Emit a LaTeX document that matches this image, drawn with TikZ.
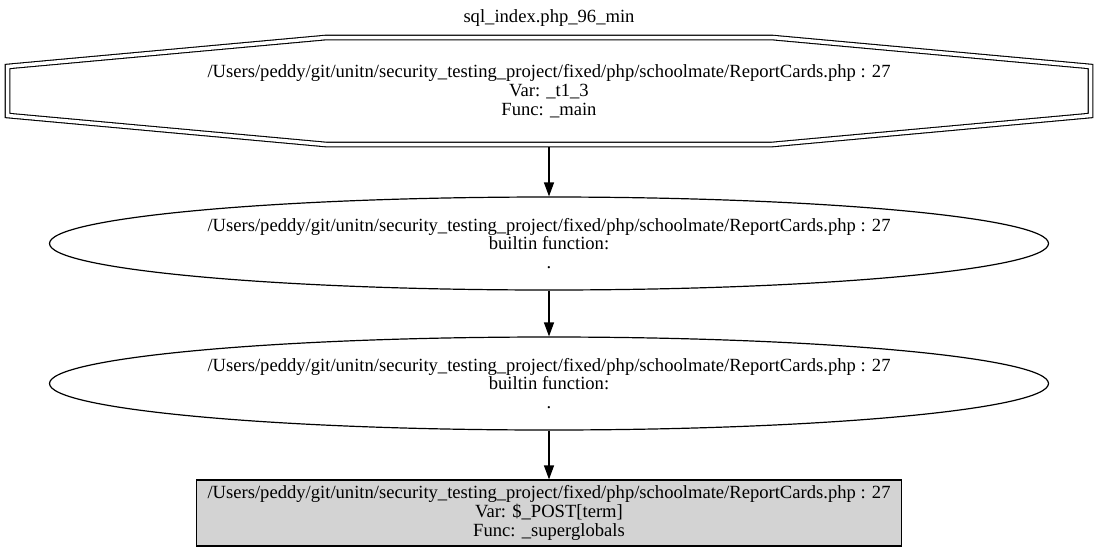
\documentclass[tikz,border=0pt]{standalone}
\usepackage{fontspec}
\setmainfont{Liberation Serif}
\usetikzlibrary{shapes.geometric, arrows.meta, positioning, calc}
\definecolor{shade}{HTML}{D3D3D3}
\tikzset{
  lbl/.style={font=\fontsize{18.6}{18.7}\selectfont, align=center, inner sep=0pt},
  ebox/.style={draw, ellipse, line width=1.2pt, minimum width=999pt,
    minimum height=93pt, lbl},
  sbox/.style={draw, fill=shade, line width=1.2pt, minimum width=705pt,
    minimum height=66pt, lbl},
  arr/.style={-{Triangle[length=14pt,width=10pt]}, line width=1.2pt},
}
\begin{document}
\begin{tikzpicture}[x=1pt, y=-1pt]
  \useasboundingbox (0,0) rectangle (1099,552);

  \node[lbl] (title) at (549,18) {sql\_index.php\_96\_min};

  \node[lbl, minimum width=1089pt, minimum height=112pt] (src) at (549,91)
    {/Users/peddy/git/unitn/security\_testing\_project/fixed/php/schoolmate/ReportCards.php : 27\\
     Var: \_t1\_3\\Func: \_main};
  % double octagon round the source node
  \draw[double, double distance=3.5pt, line width=1.1pt]
    ($(src.center)+(-541.5,-24.5)$) -- ($(src.center)+(-223,-53.5)$)
    -- ($(src.center)+(223,-53.5)$) -- ($(src.center)+(541.5,-24.5)$)
    -- ($(src.center)+(541.5,24.5)$) -- ($(src.center)+(223,53.5)$)
    -- ($(src.center)+(-223,53.5)$) -- ($(src.center)+(-541.5,24.5)$) -- cycle;

  \node[ebox] (fn1) at (549,243.5)
    {/Users/peddy/git/unitn/security\_testing\_project/fixed/php/schoolmate/ReportCards.php : 27\\
     builtin function:\\.};

  \node[ebox] (fn2) at (549,383.5)
    {/Users/peddy/git/unitn/security\_testing\_project/fixed/php/schoolmate/ReportCards.php : 27\\
     builtin function:\\.};

  \node[sbox] (sink) at (549,513)
    {/Users/peddy/git/unitn/security\_testing\_project/fixed/php/schoolmate/ReportCards.php : 27\\
     Var: \$\_POST[term]\\Func: \_superglobals};

  \draw[arr] (src) -- (fn1);
  \draw[arr] (fn1) -- (fn2);
  \draw[arr] (fn2) -- (sink);
\end{tikzpicture}
\end{document}
